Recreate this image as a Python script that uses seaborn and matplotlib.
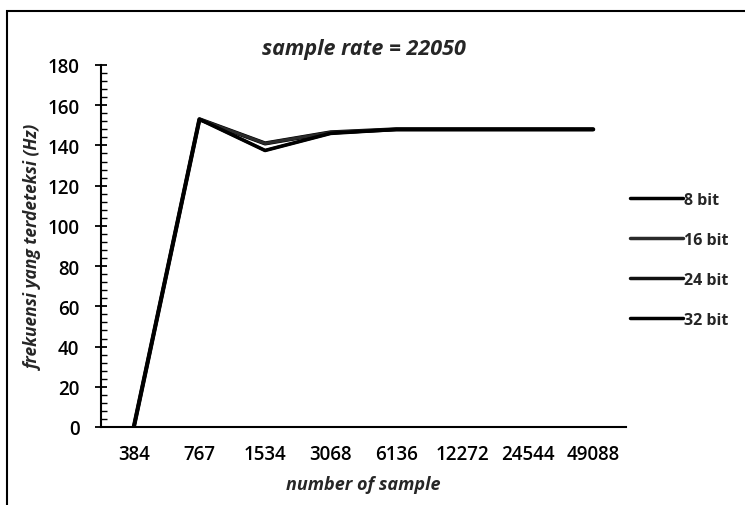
import numpy as np
import pandas as pd
import matplotlib
matplotlib.use("Agg")
import matplotlib.pyplot as plt
from matplotlib.patches import Rectangle
from matplotlib.ticker import MultipleLocator, FixedLocator
import seaborn as sns

# data
categories = ["384", "767", "1534", "3068", "6136", "12272", "24544", "49088"]
bit8 = [0, 153, 141, 146.5, 148, 148, 148, 148]
bit16 = [0, 153, 141, 146.5, 148, 148, 148, 148]
bit24 = [0, 153, 137.5, 146, 148, 148, 148, 148]
bit32 = [0, 153, 137.5, 146, 148, 148, 148, 148]
series_names = ["8 bit", "16 bit", "24 bit", "32 bit"]

sns.set_style("white")
plt.rcParams["font.family"] = ["Open Sans", "DejaVu Sans"]

rows = []
for name, vals in zip(series_names, [bit8, bit16, bit24, bit32]):
    for i, v in enumerate(vals):
        rows.append({"pos": i, "sample": categories[i], "freq": v, "series": name})
df = pd.DataFrame(rows)

fig = plt.figure(figsize=(7.45, 5.06), dpi=100)
ax = fig.add_axes([101 / 745, 78 / 506, 525 / 745, 362 / 506])

palette = {"8 bit": "#000000", "16 bit": "#2a2a2a", "24 bit": "#111111", "32 bit": "#000000"}
widths = {"8 bit": 3.0, "16 bit": 2.2, "24 bit": 2.0, "32 bit": 2.6}

for name in series_names:
    sub = df[df["series"] == name]
    sns.lineplot(data=sub, x="pos", y="freq", ax=ax, color=palette[name],
                 linewidth=widths[name], label=name, sort=False)

ax.set_xlim(-0.5, len(categories) - 0.5)
ax.set_ylim(0, 180)

# x ticks at category boundaries, labels at centres
ax.xaxis.set_major_locator(FixedLocator(np.arange(-0.5, len(categories), 1.0)))
ax.xaxis.set_minor_locator(FixedLocator(np.arange(len(categories))))
ax.set_xticklabels([])
ax.set_xticklabels(categories, minor=True)
ax.tick_params(axis="x", which="major", direction="out", length=5, width=1.3, color="black")
ax.tick_params(axis="x", which="minor", length=0, pad=12, labelsize=13.5, labelcolor="black")

ax.yaxis.set_major_locator(MultipleLocator(20))
ax.yaxis.set_minor_locator(MultipleLocator(4))
ax.tick_params(axis="y", which="major", direction="inout", length=9, width=1.3,
               pad=11, labelsize=13.5, labelcolor="black", color="black", left=True)
ax.tick_params(axis="y", which="minor", direction="in", length=4, width=1.0,
               color="black", left=True)
for lab in ax.get_xticklabels(minor=True) + ax.get_yticklabels():
    lab.set_fontweight("semibold")

sns.despine(ax=ax)
for side in ["left", "bottom"]:
    ax.spines[side].set_color("black")
    ax.spines[side].set_linewidth(1.5)

ax.set_title("sample rate = 22050", fontsize=15.5, fontweight="bold", style="italic", pad=8)
ax.set_xlabel("number of sample", fontsize=13, fontweight="bold", style="italic", labelpad=8)
ax.set_ylabel("frekuensi yang terdeteksi (Hz)", fontsize=12.5, fontweight="bold", style="italic")
ax.yaxis.set_label_coords(-0.11, 0.5)

leg = ax.legend(loc="upper left", bbox_to_anchor=(630 / 745, 1 - 193 / 506),
                bbox_transform=fig.transFigure, frameon=False, handlelength=3.3,
                handletextpad=0.05, labelspacing=1.5, borderpad=0, borderaxespad=0,
                prop={"family": "Open Sans", "weight": "bold", "size": 11.5})
for line in leg.get_lines():
    line.set_linewidth(2.5)

# outer chart frame
fig.patches.append(Rectangle((7 / 745, -0.05), 1.05, 0.976 + 0.05, transform=fig.transFigure,
                             fill=False, edgecolor="black", linewidth=1.5))

fig.savefig("out.png", dpi=100)
